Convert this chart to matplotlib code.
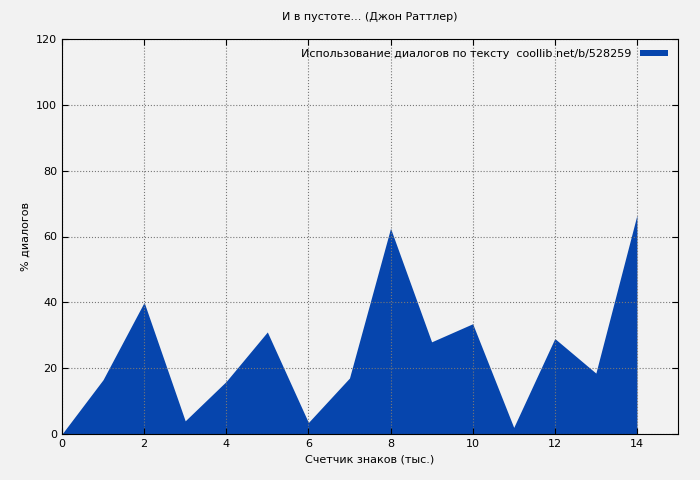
import matplotlib
matplotlib.use("Agg")
import matplotlib.pyplot as plt

x = list(range(15))
y = [0, 16.5, 40, 4, 16, 31, 3.5, 17, 62.5, 28, 33.5, 2, 29, 18.5, 66.5]
title = "И в пустоте... (Джон Раттлер)"
label = "Использование диалогов по тексту  coollib.net/b/528259"

plt.rcParams['font.family'] = ['DejaVu Sans']
fig = plt.figure(figsize=(7, 4.8), dpi=100, facecolor='#f2f2f2')
ax = fig.add_axes([62/700, 1-434/480, 616/700, 395/480])
ax.set_facecolor('#f2f2f2')
ax.fill_between(x, y, 0, color='#0645ad', lw=0, label=label)
ax.set_xlim(0, 15)
ax.set_ylim(0, 120)
ax.set_xticks(range(0, 15, 2))
ax.set_yticks(range(0, 121, 20))
ax.tick_params(labelsize=8, direction='in', length=4, top=True, right=True)
ax.grid(True, ls=':', color='#777777', lw=0.8)
for s in ax.spines.values():
    s.set_color('black')
ax.set_title(title, fontsize=8, pad=14)
ax.set_xlabel("Счетчик знаков (тыс.)", fontsize=8)
ax.set_ylabel("% диалогов", fontsize=8)
leg = ax.legend(loc='upper right', fontsize=8, frameon=False, markerfirst=False,
                handlelength=2.5, handleheight=0.5)
fig.savefig("out.png", dpi=100, facecolor=fig.get_facecolor())
